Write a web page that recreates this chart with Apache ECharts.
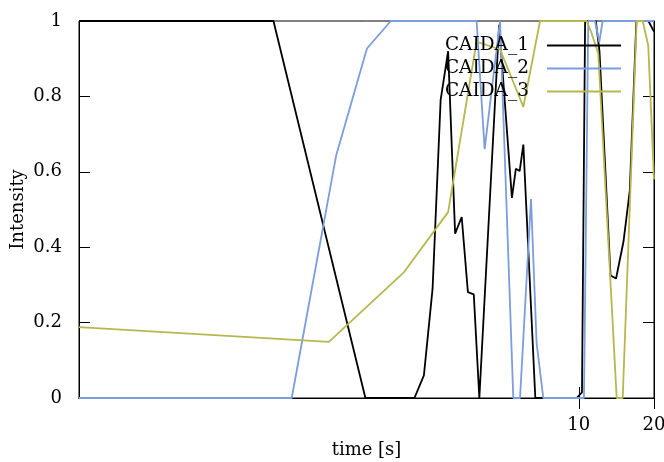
<!DOCTYPE html>
<html>
<head>
<meta charset="utf-8">
<script src="https://cdn.jsdelivr.net/npm/echarts@6/dist/echarts.min.js"></script>
<style>html,body{margin:0;padding:0;background:#fff}#c{width:664px;height:462px}</style>
</head>
<body>
<div id="c"></div>
<script>
const seriesNames = ['CAIDA_1', 'CAIDA_2', 'CAIDA_3'];
const xTickLabels = [10, 20];
const yTickLabels = [0, 0.2, 0.4, 0.6, 0.8, 1];

const caida1X = [0.1, 0.6, 1.4, 2.2, 2.4, 2.6, 2.8, 3.0, 3.2, 3.4, 3.6, 3.8, 4.0, 4.8, 5.4, 5.6, 5.8, 6.0, 6.7, 9.8, 10.3, 10.6, 11.7, 12.1, 13.4, 14.1, 15.1, 16.0, 17.0, 19.0, 20];
const caida1Y = [1, 1, 0, 0, 0.06, 0.29, 0.79, 0.92, 0.436, 0.48, 0.281, 0.275, 0, 0.99, 0.531, 0.608, 0.602, 0.672, 0, 0, 0.015, 1, 1, 0.92, 0.325, 0.317, 0.415, 0.55, 1, 1, 0.972];

const caida2X = [0.1, 0.71, 1.07, 1.42, 1.77, 3.9, 4.2, 4.84, 5.47, 5.82, 6.44, 6.78, 7.21, 10.49, 10.91, 11.61, 12.08, 12.46, 20];
const caida2Y = [0, 0, 0.644, 0.927, 1, 1, 0.66, 1, 0, 0, 0.528, 0.146, 0, 0, 1, 1, 0.944, 1, 1];

const caida3X = [0.1, 1.0, 2.0, 3.0, 3.9, 4.84, 6.0, 7.0, 10.75, 11.26, 11.97, 14.18, 14.99, 17.05, 18.02, 18.97, 20];
const caida3Y = [0.188, 0.149, 0.334, 0.493, 0.945, 0.925, 0.772, 1, 1, 0.967, 0.913, 0, 0, 1, 1, 0.935, 0.58];

const colors = ['#000000', '#7b9ddd', '#b7b74f'];
const FONT = 'DejaVu Serif';

function zip(xs, ys) { return xs.map((x, i) => [x, ys[i]]); }
const allData = [zip(caida1X, caida1Y), zip(caida2X, caida2Y), zip(caida3X, caida3Y)];

const chart = echarts.init(document.getElementById('c'), null, {renderer: 'canvas'});
const axisLine = {show: true, lineStyle: {color: '#000', width: 1}};
const tickIn = {show: true, inside: true, length: 11, lineStyle: {color: '#000', width: 1}};

chart.setOption({
  animation: false,
  backgroundColor: '#fff',
  grid: {left: 79, right: 10, top: 21, bottom: 64, show: true, borderColor: '#000', borderWidth: 1, outerBoundsMode: 'none', containLabel: false},
  legend: {
    show: true,
    orient: 'vertical',
    right: 37,
    top: 31,
    align: 'right',
    itemWidth: 74,
    itemHeight: 14,
    itemGap: 4,
    data: seriesNames,
    itemStyle: {opacity: 0},
    textStyle: {fontFamily: FONT, fontSize: 18.5, color: '#000', padding: [0, 13, 0, 0]}
  },
  xAxis: [{
    type: 'log', logBase: 10, min: 0.1, max: 20,
    position: 'bottom',
    name: 'time [s]', nameLocation: 'middle', nameGap: 43, nameMoveOverlap: false,
    nameTextStyle: {fontFamily: FONT, fontSize: 18, color: '#000'},
    axisLine: axisLine,
    axisTick: Object.assign({}, tickIn, {customValues: xTickLabels}),
    axisLabel: {customValues: xTickLabels, fontFamily: FONT, fontSize: 18, color: '#000', margin: 18},
    splitLine: {show: false}
  }, {
    type: 'log', logBase: 10, min: 0.1, max: 20,
    position: 'top',
    axisLine: axisLine,
    axisTick: Object.assign({}, tickIn, {customValues: xTickLabels}),
    axisLabel: {show: false, customValues: xTickLabels},
    splitLine: {show: false}
  }],
  yAxis: [{
    type: 'value', min: 0, max: 1, interval: 0.2,
    position: 'left',
    name: 'Intensity', nameLocation: 'middle', nameGap: 52, nameRotate: 90, nameMoveOverlap: false,
    nameTextStyle: {fontFamily: FONT, fontSize: 18, color: '#000'},
    axisLine: axisLine,
    axisTick: tickIn,
    axisLabel: {fontFamily: FONT, fontSize: 18, color: '#000', margin: 17,
      formatter: v => { const t = yTickLabels.find(k => Math.abs(k - v) < 1e-9); return t === undefined ? '' : String(t); }},
    splitLine: {show: false}
  }, {
    type: 'value', min: 0, max: 1, interval: 0.2,
    position: 'right',
    axisLine: axisLine,
    axisTick: tickIn,
    axisLabel: {show: false},
    splitLine: {show: false}
  }],
  series: seriesNames.map((n, i) => ({
    name: n,
    type: 'line',
    xAxisIndex: 0,
    yAxisIndex: 0,
    data: allData[i],
    symbol: 'none',
    showSymbol: false,
    clip: true,
    color: colors[i],
    lineStyle: {color: colors[i], width: 1.8},
    itemStyle: {color: colors[i]}
  }))
});
</script>
</body>
</html>
